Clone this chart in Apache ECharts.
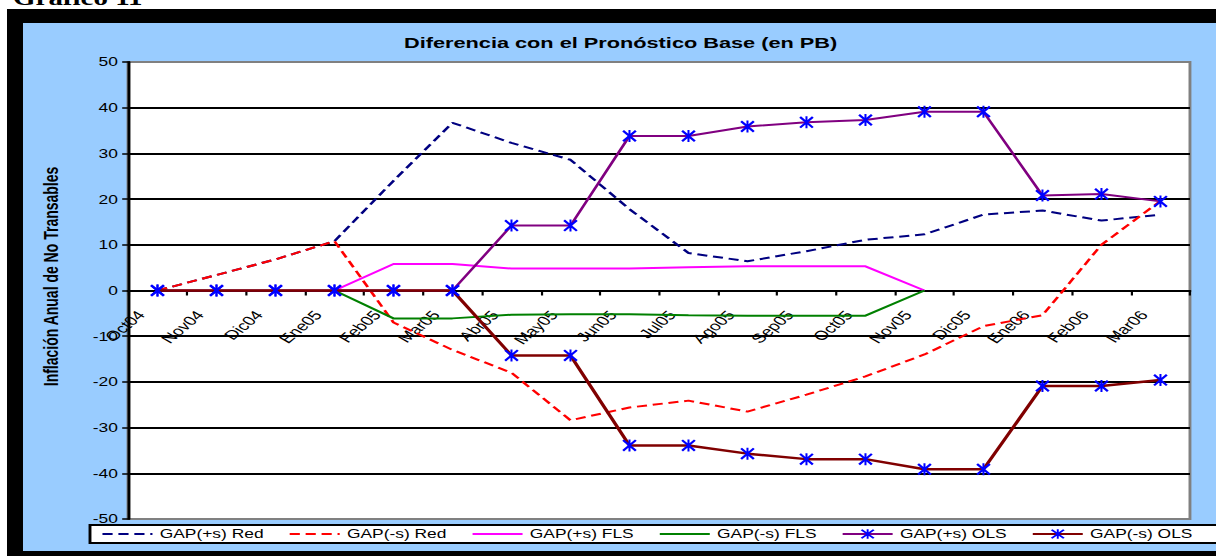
<!DOCTYPE html>
<html>
<head>
<meta charset="utf-8">
<script src="https://cdn.jsdelivr.net/npm/echarts@6.0.0/dist/echarts.min.js"></script>
<style>
  html, body { margin: 0; padding: 0; background: #fff; overflow: hidden; }
  /* el grafico original esta estirado a lo ancho: se dibuja angosto y se escala en X */
  #chart { width: 839px; height: 556px; transform: scaleX(1.4493); transform-origin: 0 0; }
</style>
</head>
<body>
<div id="chart"></div>
<script>
// meses del eje
const months = ['Oct04', 'Nov04', 'Dic04', 'Ene05', 'Feb05', 'Mar05', 'Abr05', 'May05', 'Jun05',
  'Jul05', 'Ago05', 'Sep05', 'Oct05', 'Nov05', 'Dic05', 'Ene06', 'Feb06', 'Mar06'];

// series (en PB)
const gapPosRed = [0, 3.4, 6.8, 10.8, 24, 36.7, 32.3, 28.6, 17.8, 8.2, 6.4, 8.6, 11.1, 12.3, 16.6, 17.5, 15.3, 16.6];
const gapNegRed = [0, 3.4, 6.8, 10.8, -7, -13, -18, -28.4, -25.6, -24.1, -26.5, -22.8, -18.8, -14, -7.8, -5.4, 10, 19.6];
const gapPosFls = [null, null, null, 0, 5.8, 5.8, 4.8, 4.8, 4.8, 5.1, 5.3, 5.3, 5.3, 0, null, null, null, null];
const gapNegFls = [null, null, null, 0, -6.1, -6.1, -5.3, -5.2, -5.2, -5.4, -5.5, -5.5, -5.5, 0, null, null, null, null];
const gapPosOls = [0, 0, 0, 0, 0, 0, 14.2, 14.2, 33.8, 33.8, 35.9, 36.8, 37.3, 39.1, 39.1, 20.8, 21.1, 19.5];
const gapNegOls = [0, 0, 0, 0, 0, 0, -14.2, -14.2, -33.9, -33.9, -35.7, -36.9, -36.9, -39.1, -39.1, -20.9, -20.9, -19.6];

const yTicks = { min: -50, max: 50, step: 10 };

const K = 1216 / 839;            // estiramiento horizontal
const sx = v => v / K;           // px de la imagen -> px sin escalar

// marcador tipo asterisco (x + barra vertical)
const star = 'path://M0 12 L12 0 L100 88 L88 100 Z M88 0 L100 12 L12 100 L0 88 Z M43 0 L57 0 L57 100 L43 100 Z';

const font = 'Liberation Sans, Arial, sans-serif';

const chart = echarts.init(document.getElementById('chart'), null, { renderer: 'svg' });

function plain(name, data, color, dash) {
  return {
    name, type: 'line', data,
    symbol: 'none',
    lineStyle: { color, width: 2, type: dash ? [7, 4] : 'solid' },
    itemStyle: { color },
    animation: false
  };
}
function ols(name, data, color, w) {
  return {
    name, type: 'line', data,
    symbol: star, symbolSize: [10, 12],
    showAllSymbol: true,
    lineStyle: { color, width: w },
    itemStyle: { color: '#0000FF' },
    animation: false
  };
}

const noMark = { opacity: 0 };

chart.setOption({
  backgroundColor: '#fff',
  animation: false,
  graphic: [
    { type: 'rect', z: -10, shape: { x: sx(7), y: 9, width: 900, height: 560 }, style: { fill: '#000' } },
    { type: 'rect', z: -9, shape: { x: sx(23), y: 23, width: 900, height: 528 }, style: { fill: '#99CCFF' } },
    { type: 'text', z: -8, style: { text: 'Gráfico 11', x: sx(13), y: 8, verticalAlign: 'bottom',
        font: 'bold 20px Liberation Serif, Times New Roman, serif', fill: '#000' } }
  ],
  title: {
    text: 'Diferencia con el Pronóstico Base (en PB)',
    left: sx(404), top: 35, padding: 0,
    textStyle: { fontFamily: font, fontSize: 15, fontWeight: 'bold', color: '#000' }
  },
  legend: {
    left: sx(90), top: 525, width: 770,
    padding: [3, 20, 3, 7.6],
    itemGap: 17, itemWidth: sx(50), itemHeight: 12,
    backgroundColor: '#fff', borderColor: '#000', borderWidth: 2, borderRadius: 0,
    textStyle: { fontFamily: font, fontSize: 12, color: '#000' },
    data: [
      { name: 'GAP(+s) Red', itemStyle: noMark },
      { name: 'GAP(-s) Red', itemStyle: noMark },
      { name: 'GAP(+s) FLS', itemStyle: noMark },
      { name: 'GAP(-s) FLS', itemStyle: noMark },
      'GAP(+s) OLS', 'GAP(-s) OLS'
    ]
  },
  grid: {
    left: sx(128), right: sx(26), top: 62, bottom: 37,
    show: true, backgroundColor: '#fff', borderColor: '#808080', borderWidth: 2
  },
  xAxis: {
    type: 'category', data: months, boundaryGap: true,
    position: 'bottom', offset: -228.5,
    axisLine: { onZero: false, lineStyle: { color: '#000', width: 2 } },
    axisTick: { show: true, length: 5, lineStyle: { color: '#000', width: 1.5 } },
    axisLabel: {
      interval: 0, rotate: 50, margin: 8, padding: [0, 18, 26, 0],
      fontFamily: font, fontSize: 13, color: '#000'
    },
    splitLine: { show: false }
  },
  yAxis: {
    type: 'value', min: yTicks.min, max: yTicks.max, interval: yTicks.step,
    name: 'Inflación Anual de No Transables', nameLocation: 'middle', nameGap: 46,
    nameTextStyle: { fontFamily: font, fontSize: 14, fontWeight: 'bold', color: '#000', padding: [0, 0, 0, 28] },
    axisLine: { show: true, lineStyle: { color: '#000', width: 2 } },
    axisTick: { show: true, length: 4, lineStyle: { color: '#000', width: 1.5 } },
    axisLabel: { margin: 7, fontFamily: font, fontSize: 12, color: '#000' },
    splitLine: { show: true, showMinLine: false, showMaxLine: false, lineStyle: { color: '#000', width: 2 } }
  },
  series: [
    plain('GAP(+s) Red', gapPosRed, '#000080', true),
    plain('GAP(-s) Red', gapNegRed, '#FF0000', true),
    plain('GAP(+s) FLS', gapPosFls, '#FF00FF', false),
    plain('GAP(-s) FLS', gapNegFls, '#008000', false),
    ols('GAP(+s) OLS', gapPosOls, '#800080', 2),
    ols('GAP(-s) OLS', gapNegOls, '#800000', 2.5)
  ]
});
</script>
</body>
</html>
